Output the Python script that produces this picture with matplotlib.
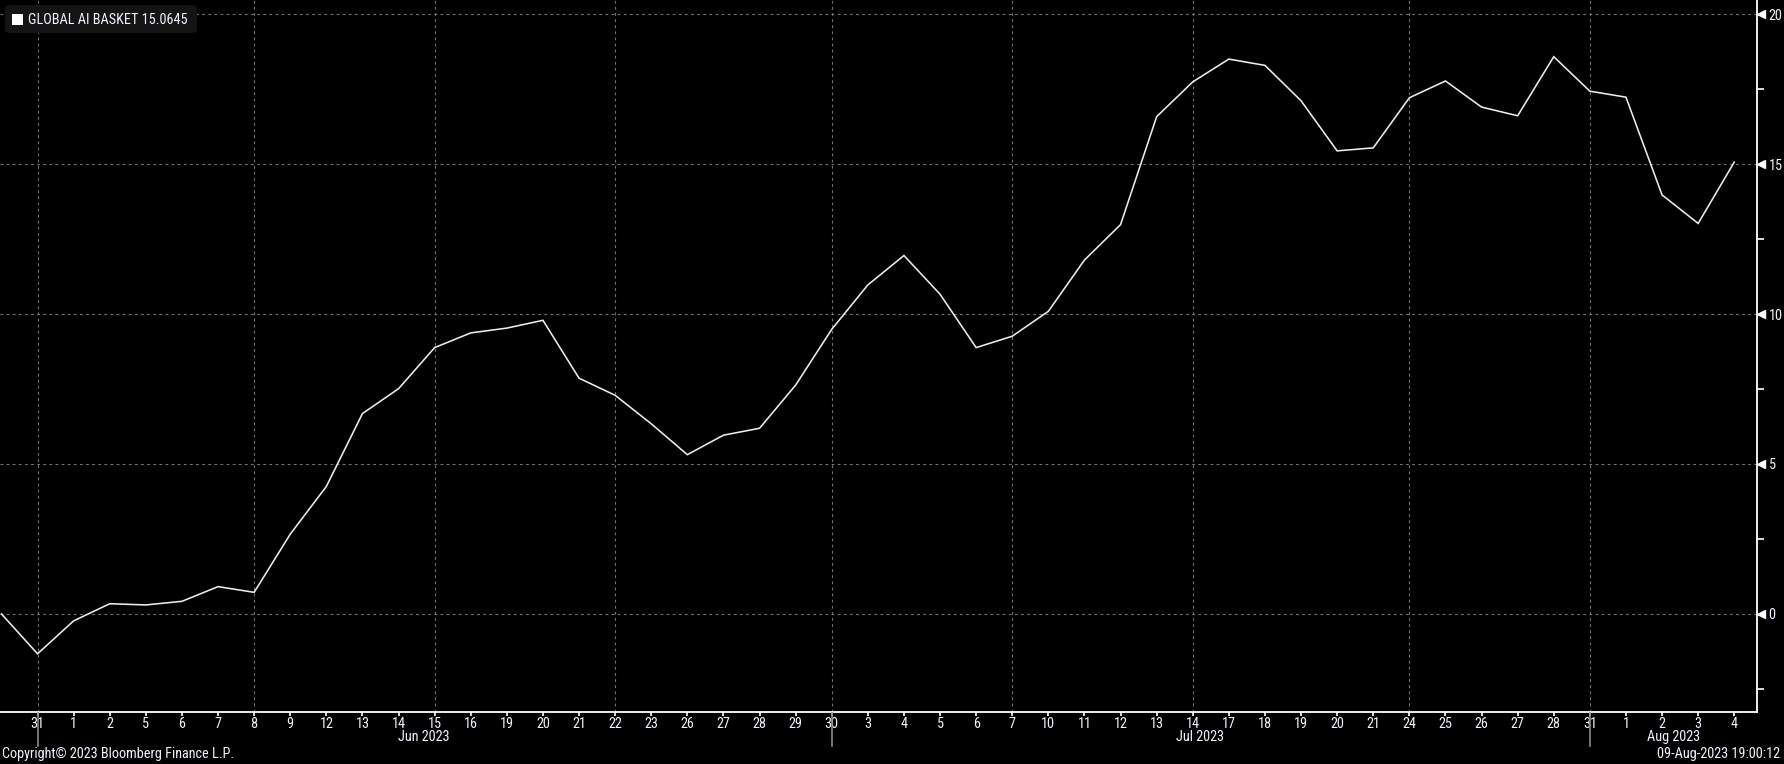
import matplotlib
matplotlib.use("Agg")
import matplotlib.pyplot as plt
import matplotlib.transforms as mtransforms
from matplotlib import font_manager
from matplotlib.patches import FancyBboxPatch, Rectangle
import pandas as pd

# ---------------- data ----------------
dates = ["2023-05-30", "2023-05-31", "2023-06-01", "2023-06-02", "2023-06-05", "2023-06-06",
         "2023-06-07", "2023-06-08", "2023-06-09", "2023-06-12", "2023-06-13", "2023-06-14",
         "2023-06-15", "2023-06-16", "2023-06-19", "2023-06-20", "2023-06-21", "2023-06-22",
         "2023-06-23", "2023-06-26", "2023-06-27", "2023-06-28", "2023-06-29", "2023-06-30",
         "2023-07-03", "2023-07-04", "2023-07-05", "2023-07-06", "2023-07-07", "2023-07-10",
         "2023-07-11", "2023-07-12", "2023-07-13", "2023-07-14", "2023-07-17", "2023-07-18",
         "2023-07-19", "2023-07-20", "2023-07-21", "2023-07-24", "2023-07-25", "2023-07-26",
         "2023-07-27", "2023-07-28", "2023-07-31", "2023-08-01", "2023-08-02", "2023-08-03",
         "2023-08-04"]
basket = [0.00, -1.33, -0.23, 0.34, 0.30, 0.42, 0.91, 0.72, 2.66, 4.25, 6.68, 7.51,
          8.88, 9.37, 9.53, 9.79, 7.86, 7.29, 6.34, 5.31, 5.96, 6.19, 7.63, 9.49,
          10.97, 11.95, 10.66, 8.88, 9.26, 10.09, 11.80, 12.98, 16.58, 17.74, 18.50, 18.29,
          17.11, 15.44, 15.54, 17.21, 17.77, 16.90, 16.61, 18.58, 17.43, 17.23, 13.97, 13.02,
          15.0645]
series_name = "GLOBAL AI BASKET"
yticks = [0, 5, 10, 15, 20]
yminor = [-2.5, 2.5, 7.5, 12.5, 17.5]
vgrid_dates = ["2023-05-31", "2023-06-08", "2023-06-15", "2023-06-22", "2023-06-30",
               "2023-07-07", "2023-07-14", "2023-07-24", "2023-07-31"]
month_sep_dates = ["2023-05-31", "2023-06-30", "2023-07-31"]
month_labels = ["Jun 2023", "Jul 2023", "Aug 2023"]
copyright_text = "Copyright© 2023 Bloomberg Finance L.P."
stamp_text = "09-Aug-2023 19:00:12"

# ---------------- fonts ----------------
fm = font_manager.fontManager.ttflist
names = {f.name for f in fm}
has_dv_cond = any(f.name == "DejaVu Sans" and f.stretch in ("condensed", 600, "semi-condensed")
                  or "Condensed" in f.fname and "DejaVuSans" in f.fname for f in fm)
stretch = "normal"
if "Roboto Condensed" in names:
    fam, fs = "Roboto Condensed", 10.3
elif "Liberation Sans Narrow" in names:
    fam, fs = "Liberation Sans Narrow", 10.3
elif has_dv_cond:
    fam, fs, stretch = "DejaVu Sans", 9.2, "condensed"
else:
    fam, fs = "DejaVu Sans", 8.4
plt.rcParams["font.family"] = [fam, "DejaVu Sans"]
plt.rcParams["font.stretch"] = stretch

W, H = 1784, 764
fig = plt.figure(figsize=(W / 100, H / 100), dpi=100, facecolor="black")
ax = fig.add_axes([0, 52 / H, 1757 / W, 712 / H], facecolor="black")

dts = pd.to_datetime(dates)
idx = {d: i for i, d in enumerate(dates)}
x = list(range(len(dates)))

ax.set_xlim(-0.04, 48.63)
ax.set_ylim(-3.27, 20.47)

# grid
for v in yticks:
    ax.axhline(v, color="#737373", lw=0.8, ls=(0, (2.5, 3)), zorder=1)
for d in vgrid_dates:
    ax.axvline(idx[d], color="#737373", lw=0.8, ls=(0, (2.5, 3)), zorder=1)

ax.plot(x, basket, color="#ececec", lw=1.15, zorder=3, solid_joinstyle="miter")

# spines
for s in ["left", "top"]:
    ax.spines[s].set_visible(False)
for s in ["right", "bottom"]:
    ax.spines[s].set_color("white")
    ax.spines[s].set_linewidth(1.3)

# y axis on right
ax.yaxis.tick_right()
ax.set_yticks(yticks)
ax.set_yticklabels([str(v) for v in yticks])
ax.set_yticks(yminor, minor=True)
ax.tick_params(axis="y", which="major", length=0, pad=8.3, labelcolor="#eef3ff",
               labelsize=fs)
ax.tick_params(axis="y", which="minor", length=5, color="white", width=1.2)
trans = mtransforms.blended_transform_factory(ax.transAxes, ax.transData)
ax.plot([1.0024] * len(yticks), yticks, marker="<", ls="none", color="white",
        markersize=6, transform=trans, clip_on=False, zorder=5)

# x axis
ax.set_xticks(x[1:])
ax.set_xticklabels([str(d.day) for d in dts[1:]])
ax.tick_params(axis="x", which="major", length=3, width=1.2, color="white",
               labelcolor="#eef3ff", labelsize=fs, pad=0.5)

# month separators and labels
transx = mtransforms.blended_transform_factory(ax.transData, fig.transFigure)
seps = [idx[d] for d in month_sep_dates] + [ax.get_xlim()[1]]
for i, d in enumerate(month_sep_dates):
    p = idx[d]
    fig.add_artist(plt.Line2D([p, p], [(H - 713) / H, (H - 746) / H], color="#8a8a8a",
                              lw=1.2, transform=transx))
    c = (seps[i] + seps[i + 1]) / 2 - (0.3 if i < len(month_sep_dates) - 1 else 0.0)
    fig.text(c, (H - 737) / H, month_labels[i], transform=transx, ha="center", va="center",
             color="#eef3ff", fontsize=fs)

fig.text(2 / W, (H - 754) / H, copyright_text, ha="left", va="center", color="#eef3ff",
         fontsize=fs)
fig.text(1780 / W, (H - 754) / H, stamp_text, ha="right", va="center", color="#eef3ff",
         fontsize=fs)

# legend box
box = FancyBboxPatch((5 / W, (H - 33) / H), 192 / W, 28 / H,
                     boxstyle="round,pad=0,rounding_size=0.004", transform=fig.transFigure,
                     facecolor="#141414", edgecolor="none", zorder=10)
fig.add_artist(box)
sq = Rectangle((12 / W, (H - 25) / H), 11 / W, 11 / H, transform=fig.transFigure,
               facecolor="white", edgecolor="none", zorder=11)
fig.add_artist(sq)
fig.text(28 / W, (H - 19.5) / H, f"{series_name} {basket[-1]:.4f}", ha="left", va="center",
         color="#eef3ff", fontsize=fs, zorder=12)

fig.savefig("out.png", dpi=100, facecolor="black")
